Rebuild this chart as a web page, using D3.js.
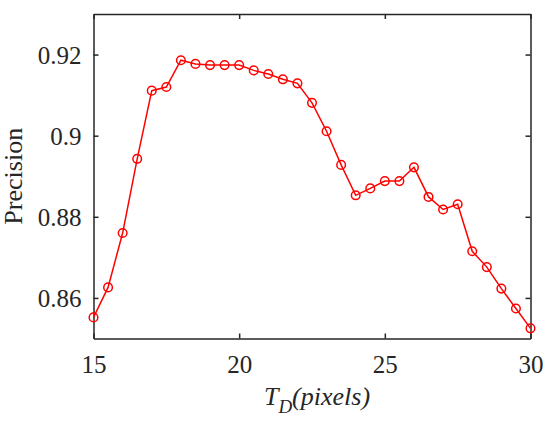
<!DOCTYPE html>
<html>
<head>
<meta charset="utf-8">
<script src="https://cdn.jsdelivr.net/npm/d3@7"></script>
<style>
    body { margin: 0; background: #fff; }
</style>
</head>
<body>
<div id="chart_location"></div>
<script>
// threshold T_D in pixels
var thresholds = [15, 15.5, 16, 16.5, 17, 17.5, 18, 18.5, 19, 19.5, 20, 20.5, 21, 21.5, 22, 22.5,
    23, 23.5, 24, 24.5, 25, 25.5, 26, 26.5, 27, 27.5, 28, 28.5, 29, 29.5, 30];

var precision = [0.8552, 0.8626, 0.8760, 0.8943, 0.9111, 0.9120, 0.9186, 0.9177, 0.9174, 0.9174,
    0.9174, 0.9161, 0.9152, 0.9139, 0.9129, 0.9081, 0.9011, 0.8928, 0.8853, 0.8870,
    0.8888, 0.8888, 0.8922, 0.8849, 0.8818, 0.8831, 0.8715, 0.8676, 0.8623, 0.8574, 0.8525];

var xTicks = [15, 20, 25, 30];
var yTicks = [0.86, 0.88, 0.9, 0.92];

var serif = "'Liberation Serif', 'DejaVu Serif', serif";

function drawChart(selector) {
    var svg = d3.select(selector).append("svg")
        .attr("width", 550)
        .attr("height", 424)
        .style("font-family", serif);

    var margin = { top: 14, right: 19.5, bottom: 85.5, left: 93.5 },
        width = +svg.attr("width") - margin.left - margin.right,
        height = +svg.attr("height") - margin.top - margin.bottom;

    var g = svg.append("g").attr("transform", "translate(" + margin.left + "," + margin.top + ")");

    var x = d3.scaleLinear().domain([15, 30]).range([0, width]);
    var y = d3.scaleLinear().domain([0.85, 0.93]).range([height, 0]);

    var fmt = function(d) { return String(d); };

    // box with inward ticks on all four sides
    g.append("g").attr("class", "axis")
        .attr("transform", "translate(0," + height + ")")
        .call(d3.axisBottom(x).tickValues(xTicks).tickSizeInner(-5).tickSizeOuter(0).tickFormat(fmt));
    g.append("g").attr("class", "axis")
        .call(d3.axisLeft(y).tickValues(yTicks).tickSizeInner(-5).tickSizeOuter(0).tickFormat(fmt));
    g.append("g").attr("class", "axis")
        .call(d3.axisTop(x).tickValues(xTicks).tickSizeInner(-5).tickSizeOuter(0).tickFormat(""));
    g.append("g").attr("class", "axis")
        .attr("transform", "translate(" + width + ",0)")
        .call(d3.axisRight(y).tickValues(yTicks).tickSizeInner(-5).tickSizeOuter(0).tickFormat(""));

    g.selectAll(".axis").attr("font-family", null).attr("font-size", null);
    g.selectAll(".axis path, .axis line")
        .attr("stroke", "#262626")
        .attr("stroke-width", 1.5);
    g.selectAll(".axis text")
        .style("font-family", serif)
        .style("font-size", "25px")
        .attr("fill", "#262626");

    // tick label positions
    g.selectAll(".axis").filter(function(d, i) { return i == 0; }).selectAll("text")
        .attr("y", 34).attr("dy", null);
    g.selectAll(".axis").filter(function(d, i) { return i == 1; }).selectAll("text")
        .attr("x", -12).attr("dy", "0.35em");

    // line + circle markers
    var points = thresholds.map(function(t, i) { return { t: t, p: precision[i] }; });

    var line = d3.line()
        .x(function(d) { return x(d.t); })
        .y(function(d) { return y(d.p); });

    g.append("path")
        .datum(points)
        .attr("fill", "none")
        .attr("stroke", "#ff0000")
        .attr("stroke-width", 1.5)
        .attr("d", line);

    g.selectAll("circle.mark")
        .data(points)
        .enter().append("circle")
        .attr("class", "mark")
        .attr("cx", function(d) { return x(d.t); })
        .attr("cy", function(d) { return y(d.p); })
        .attr("r", 4.3)
        .attr("fill", "none")
        .attr("stroke", "#ff0000")
        .attr("stroke-width", 1.5);

    // axis titles
    var xl = svg.append("text")
        .attr("x", margin.left + width / 2 + 5)
        .attr("y", 405)
        .attr("text-anchor", "middle")
        .attr("fill", "#262626")
        .style("font-size", "26px")
        .style("font-style", "italic");
    xl.append("tspan").text("T");
    xl.append("tspan").attr("dy", 8).style("font-size", "19px").text("D");
    xl.append("tspan").attr("dy", -8).text("(pixels)");

    svg.append("text")
        .attr("transform", "translate(22," + (margin.top + height / 2) + ") rotate(-90)")
        .attr("text-anchor", "middle")
        .attr("fill", "#262626")
        .style("font-size", "26px")
        .text("Precision");
}

drawChart("#chart_location");
</script>
</body>
</html>
